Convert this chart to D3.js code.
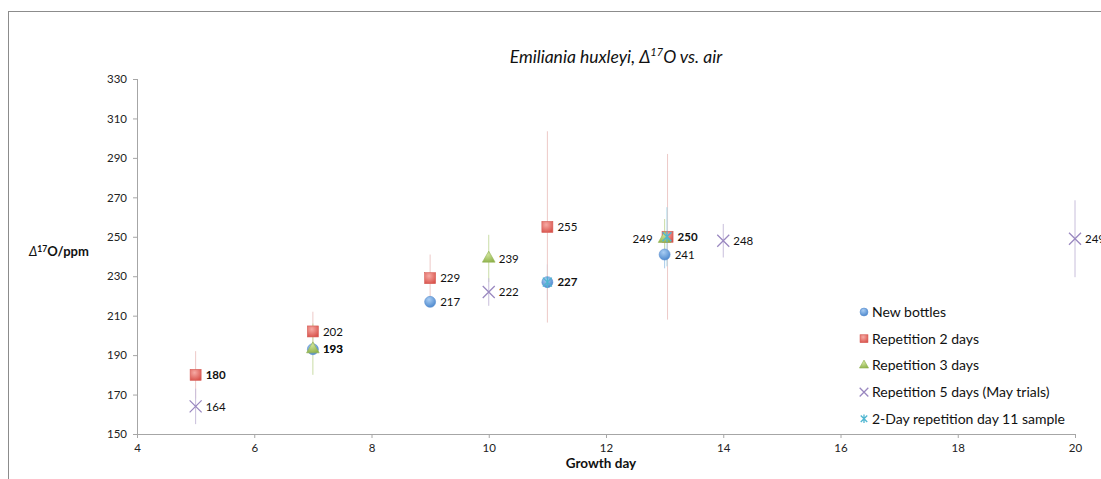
<!DOCTYPE html>
<html>
<head>
<meta charset="utf-8">
<script src="https://cdn.jsdelivr.net/npm/d3@7"></script>
<style>
  html, body { margin: 0; padding: 0; background: #fff; }
  svg { display: block; font-family: Lato, "Open Sans", sans-serif; }
</style>
</head>
<body>
<svg id="chart" width="1101" height="479"></svg>
<script>
// ---- data ----
const seriesNames = ["New bottles", "Repetition 2 days", "Repetition 3 days",
  "Repetition 5 days (May trials)", "2-Day repetition day 11 sample"];

const newBottlesDay = [7, 9, 11, 13];
const newBottlesVal = [193, 217, 227, 241];
const newBottlesErr = [3, 2, 9, 7];

const rep2Day = [5, 7, 9, 11, 13.05];
const rep2Val = [180, 202, 229, 255, 250];
const rep2Err = [12, 10, 12, 48.5, 42];

const rep3Day = [7, 10, 13];
const rep3Val = [193, 239, 249];
const rep3Err = [13, 12, 10];

const rep5Day = [5, 10, 14, 20];
const rep5Val = [164, 222, 248, 249];
const rep5Err = [9, 7, 8.5, 19.5];

const day11Day = [11, 13.04];
const day11Val = [227, 250];
const day11Err = [0, 15];

// which value labels are bold, and which sit left of their marker
const newBottlesBold = [true, false, true, false];
const rep2Bold = [true, false, false, false, true];
const rep3Bold = [false, false, false];
const rep5Bold = [false, false, false, false];
const rep3LabelLeft = [false, false, true];

const xTicks = [4, 6, 8, 10, 12, 14, 16, 18, 20];
const yTicks = [150, 170, 190, 210, 230, 250, 270, 290, 310, 330];

// ---- layout ----
const svg = d3.select("#chart");
const x = d3.scaleLinear().domain([4, 20]).range([137, 1075]);
const y = d3.scaleLinear().domain([150, 330]).range([434, 79]);

// outer frame
svg.append("rect").attr("x", 8.5).attr("y", 11.5).attr("width", 1200).attr("height", 600)
  .attr("fill", "none").attr("stroke", "#8c8c8c").attr("stroke-width", 1);

// gradients for markers
const defs = svg.append("defs");
function grad(id, c1, c2) {
  const g = defs.append("radialGradient").attr("id", id)
    .attr("cx", "40%").attr("cy", "30%").attr("r", "75%");
  g.append("stop").attr("offset", "0%").attr("stop-color", c1);
  g.append("stop").attr("offset", "100%").attr("stop-color", c2);
}
grad("gBlue", "#a9cdf3", "#4a86cc");
grad("gRed", "#f6aaa4", "#d9534c");
grad("gGreen", "#cfe39a", "#8fb24a");

// axes
const axisColor = "#a6a6a6";
const yAxis = svg.append("g").attr("transform", "translate(137,0)")
  .call(d3.axisLeft(y).tickValues(yTicks).tickSize(4).tickPadding(6).tickFormat(d3.format("d")));
const xAxis = svg.append("g").attr("transform", "translate(0,434)")
  .call(d3.axisBottom(x).tickValues(xTicks).tickSize(4).tickPadding(6).tickFormat(d3.format("d")));
[yAxis, xAxis].forEach(a => {
  a.select(".domain").attr("stroke", axisColor);
  a.selectAll(".tick line").attr("stroke", axisColor);
  a.selectAll(".tick text").attr("fill", "#222").attr("font-size", 11.5)
    .attr("font-family", "Lato, 'Open Sans', sans-serif");
});
yAxis.select(".domain").attr("d", "M0.5,434V79");
xAxis.select(".domain").attr("d", "M137,0.5H1075");

// title
svg.append("text").attr("x", 616).attr("y", 63).attr("text-anchor", "middle")
  .attr("font-size", 17.5).attr("font-style", "italic").attr("fill", "#111")
  .call(t => {
    t.append("tspan").text("Emiliania huxleyi, Δ");
    t.append("tspan").attr("font-size", 11).attr("dy", -7).text("17");
    t.append("tspan").attr("dy", 7).text("O vs. air");
  });

// axis titles
svg.append("text").attr("x", 29).attr("y", 256).attr("font-size", 13).attr("font-weight", "bold")
  .attr("fill", "#111")
  .call(t => {
    t.append("tspan").attr("font-style", "italic").attr("font-weight", "normal").text("Δ");
    t.append("tspan").attr("font-size", 8.5).attr("dy", -4.5).text("17");
    t.append("tspan").attr("dy", 4.5).text("O/ppm");
  });
svg.append("text").attr("x", 601).attr("y", 468).attr("text-anchor", "middle")
  .attr("font-size", 13.5).attr("font-weight", "bold").attr("fill", "#111").text("Growth day");

// ---- series ----
function pack(days, vals, errs, bold, left) {
  return days.map((d, i) => ({ d, v: vals[i], e: errs[i],
    bold: bold ? bold[i] : false, left: left ? left[i] : false }));
}
const series = [
  { name: seriesNames[0], pts: pack(newBottlesDay, newBottlesVal, newBottlesErr, newBottlesBold),
    bar: "#a9cbe9", shape: "circle", label: true },
  { name: seriesNames[1], pts: pack(rep2Day, rep2Val, rep2Err, rep2Bold),
    bar: "#edc9c7", shape: "square", label: true },
  { name: seriesNames[2], pts: pack(rep3Day, rep3Val, rep3Err, rep3Bold, rep3LabelLeft),
    bar: "#c9dca6", shape: "triangle", label: true },
  { name: seriesNames[3], pts: pack(rep5Day, rep5Val, rep5Err, rep5Bold),
    bar: "#c8bedb", shape: "x", label: true },
  { name: seriesNames[4], pts: pack(day11Day, day11Val, day11Err),
    bar: "#a9d6e6", shape: "star", label: false }
];

function drawMarker(g, shape, cx, cy, k = 1) {
  if (shape === "circle") {
    g.append("circle").attr("cx", cx).attr("cy", cy).attr("r", 5.5 * k)
      .attr("fill", "url(#gBlue)").attr("stroke", "#5a8fd0").attr("stroke-width", 0.6);
  } else if (shape === "square") {
    const h = 5.5 * k;
    g.append("rect").attr("x", cx - h).attr("y", cy - h).attr("width", 2 * h).attr("height", 2 * h)
      .attr("fill", "url(#gRed)").attr("stroke", "#d65d56").attr("stroke-width", 0.6);
  } else if (shape === "triangle") {
    g.append("path").attr("transform", `translate(${cx},${cy})`)
      .attr("d", d3.symbol(d3.symbolTriangle, 70 * k * k)())
      .attr("fill", "url(#gGreen)").attr("stroke", "#93b456").attr("stroke-width", 0.6);
  } else if (shape === "x") {
    const s = 6 * k;
    g.append("path").attr("d", `M${cx - s},${cy - s}L${cx + s},${cy + s}M${cx - s},${cy + s}L${cx + s},${cy - s}`)
      .attr("stroke", "#9a88c0").attr("stroke-width", 1.3).attr("fill", "none");
  } else if (shape === "star") {
    const s = 4.5 * k;
    g.append("path").attr("d", `M${cx - s},${cy - s}L${cx + s},${cy + s}M${cx - s},${cy + s}L${cx + s},${cy - s}M${cx},${cy - s - 1}L${cx},${cy + s + 1}`)
      .attr("stroke", "#4fb6d1").attr("stroke-width", 1.3).attr("fill", "none");
  }
}

// error bars first, markers above
const barLayer = svg.append("g");
const markLayer = svg.append("g");
const labelLayer = svg.append("g");

series.forEach(s => {
  s.pts.forEach(p => {
    if (p.e > 0) {
      barLayer.append("line")
        .attr("x1", x(p.d)).attr("x2", x(p.d))
        .attr("y1", y(p.v + p.e)).attr("y2", y(p.v - p.e))
        .attr("stroke", s.bar).attr("stroke-width", 1);
    }
  });
});

series.forEach(s => {
  s.pts.forEach(p => drawMarker(markLayer, s.shape, x(p.d), y(p.v)));
  if (s.label) {
    s.pts.forEach(p => {
      labelLayer.append("text")
        .attr("x", p.left ? x(p.d) - 12 : x(p.d) + 10)
        .attr("y", y(p.v)).attr("dy", "0.36em")
        .attr("text-anchor", p.left ? "end" : "start")
        .attr("font-size", 11.5).attr("fill", "#111")
        .attr("font-weight", p.bold ? "bold" : "normal")
        .text(d3.format("d")(p.v));
    });
  }
});

// legend
const legend = svg.append("g");
series.forEach((s, i) => {
  const cy = 312 + i * 26.7;
  drawMarker(legend, s.shape, 864, cy, 0.72);
  legend.append("text").attr("x", 872).attr("y", cy).attr("dy", "0.36em")
    .attr("font-size", 14).attr("fill", "#111").text(s.name);
});
</script>
</body>
</html>
